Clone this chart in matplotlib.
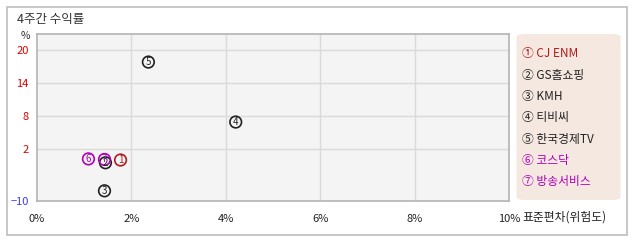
import matplotlib

matplotlib.use("Agg")
import matplotlib.pyplot as plt
from matplotlib.patches import FancyBboxPatch, Rectangle

plt.rcParams["font.family"] = ["Noto Sans CJK KR", "DejaVu Sans"]

# data
names = ["CJ ENM", "GS홈쇼핑", "KMH", "티비씨", "한국경제TV", "코스닥", "방송서비스"]
marks = ["①", "②", "③", "④", "⑤", "⑥", "⑦"]
std_dev = [1.77, 1.45, 1.43, 4.21, 2.36, 1.09, 1.43]      # 표준편차 (%)
returns_4w = [0.0, -0.5, -5.6, 6.9, 17.8, 0.2, 0.1]       # 4주간 수익률 (%)
colors = ["#b01c1c", "#222222", "#222222", "#222222", "#222222", "#b000b8", "#b000b8"]

x_ticks = [0, 2, 4, 6, 8, 10]
x_labels = ["0%", "2%", "4%", "6%", "8%", "10%"]
y_ticks = [-7.45, 2, 8, 14, 20]
y_labels = ["\u221210", "2", "8", "14", "20"]
y_label_colors = ["#3a3aff", "#e00000", "#e00000", "#e00000", "#e00000"]

fig = plt.figure(figsize=(6.38, 2.42), dpi=100, facecolor="white")

# outer frame
fig.patches.append(Rectangle((7 / 638, 7 / 242), 620 / 638, 228 / 242, transform=fig.transFigure,
                             fill=False, edgecolor="#bdbdbd", linewidth=1.2))

ax = fig.add_axes([37 / 638, 1 - 201 / 242, 472 / 638, 167 / 242], facecolor="#f4f4f4")
ax.set_xlim(0, 10)
ax.set_ylim(-7.45, 22.9)
ax.set_xticks(x_ticks)
ax.set_xticklabels(x_labels, fontsize=8, color="#222222")
ax.set_yticks(y_ticks)
ax.set_yticklabels(y_labels, fontsize=8)
for lbl, c in zip(ax.get_yticklabels(), y_label_colors):
    lbl.set_color(c)
ax.tick_params(length=0)
ax.tick_params(axis="x", pad=9)
ax.tick_params(axis="y", pad=6)
for v in [2, 4, 6, 8]:
    ax.axvline(v, color="#dadada", linewidth=1, zorder=0)
for v in [2, 8, 14, 20]:
    ax.axhline(v, color="#dadada", linewidth=1, zorder=0)
for sp in ax.spines.values():
    sp.set_color("#b4b4b4")
    sp.set_linewidth(1.2)

# circled markers with the series number inside
ax.scatter(std_dev, returns_4w, s=70, facecolors="none", edgecolors=colors, linewidths=1.2, zorder=3)
for i, (x, y, c) in enumerate(zip(std_dev, returns_4w, colors)):
    ax.text(x, y, str(i + 1), fontsize=7, color=c, ha="center", va="center", zorder=4)

fig.text(17 / 638, 1 - 20 / 242, "4주간 수익률", fontsize=9, color="#333333", ha="left", va="center")
fig.text(25 / 638, 1 - 36 / 242, "%", fontsize=7.5, color="#333333", ha="center", va="center")
fig.text(522 / 638, 1 - 217 / 242, "표준편차(위험도)", fontsize=8.5, color="#222222", ha="left", va="center")

# legend panel
fig.patches.append(FancyBboxPatch((519 / 638, 1 - 199 / 242), 99 / 638, 164 / 242,
                                  boxstyle="round,pad=0.004,rounding_size=0.012",
                                  transform=fig.transFigure, facecolor="#f5e8e1", edgecolor="none"))
for i, (m, n, c) in enumerate(zip(marks, names, colors)):
    fig.text(522 / 638, 1 - (54 + i * 21.3) / 242, m + " " + n, fontsize=8.5, color=c,
             ha="left", va="center")

fig.savefig("out.png", dpi=100, facecolor=fig.get_facecolor())
